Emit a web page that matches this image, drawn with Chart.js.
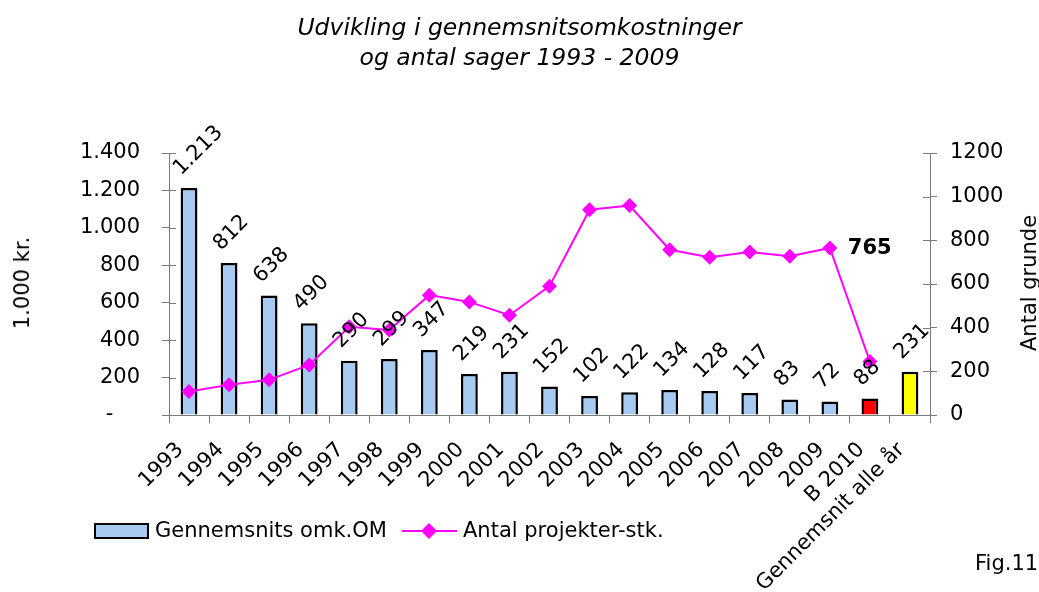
<!DOCTYPE html>
<html>
<head>
<meta charset="utf-8">
<script src="https://cdn.jsdelivr.net/npm/chart.js"></script>
<style>
  html, body { margin: 0; padding: 0; background: #fff; }
  #wrap { position: relative; width: 1039px; height: 592px; font-family: "DejaVu Sans", Verdana, sans-serif; color: #000; }
  #chart { position: absolute; left: 0; top: 0; }
  .title { position: absolute; left: 0; width: 1039px; text-align: center; font-style: italic; font-size: 23.5px; }
  .vtitle { position: absolute; font-size: 21px; white-space: nowrap; transform: translate(-50%, -50%) rotate(-90deg); }
  #fig { position: absolute; left: 975px; top: 551px; font-size: 21px; }
</style>
</head>
<body>
<div id="wrap">
  <canvas id="chart" width="1039" height="592"></canvas>
  <div class="title" style="top: 13px;">Udvikling i gennemsnitsomkostninger</div>
  <div class="title" style="top: 43px;">og antal sager 1993 - 2009</div>
  <div class="vtitle" style="left: 22px; top: 283px;">1.000 kr.</div>
  <div class="vtitle" style="left: 1029px; top: 283px;">Antal grunde</div>
  <div id="fig">Fig.11</div>
</div>
<script>
// values
const categories = ['1993', '1994', '1995', '1996', '1997', '1998', '1999', '2000', '2001', '2002',
  '2003', '2004', '2005', '2006', '2007', '2008', '2009', 'B 2010', 'Gennemsnit alle år'];
const avgCost = [1213, 812, 638, 490, 290, 299, 347, 219, 231, 152, 102, 122, 134, 128, 117, 83, 72, 88, 231];
const projectCount = [108, 138, 161, 229, 404, 389, 549, 518, 457, 590, 940, 959, 757, 723, 746, 727, 765, 245, null];
const leftTicks = [0, 200, 400, 600, 800, 1000, 1200, 1400];
const rightTicks = [0, 200, 400, 600, 800, 1000, 1200];
const highlightIndex = 16; // 2009 count shown in bold

const FONT = '"DejaVu Sans", Verdana, sans-serif';
const AXIS_COLOR = '#7a7a7a';
const SIZE = 21;

function fmtDK(v) {
  if (v === 0) return '-    ';
  return String(v).replace(/\B(?=(\d{3})+(?!\d))/g, '.');
}

function barColor(ctx) {
  if (ctx.dataIndex === 17) return '#ff0000';
  if (ctx.dataIndex === 18) return '#ffff00';
  return '#a6caf0';
}

// rotated category labels, value labels above bars, inner halves of y ticks, bold 765, legend
const extrasPlugin = {
  id: 'extras',
  afterDraw(chart) {
    const ctx = chart.ctx;
    const area = chart.chartArea;
    const xs = chart.scales.x;

    // inner halves of y axis ticks (Excel "cross" tick marks)
    ctx.save();
    ctx.strokeStyle = AXIS_COLOR;
    ctx.lineWidth = 1;
    const yl = chart.scales.y, yr = chart.scales.y1;
    leftTicks.forEach(v => {
      const py = Math.round(yl.getPixelForValue(v)) + 0.5;
      ctx.beginPath(); ctx.moveTo(area.left, py); ctx.lineTo(area.left + 7, py); ctx.stroke();
    });
    rightTicks.forEach(v => {
      const py = Math.round(yr.getPixelForValue(v)) + 0.5;
      ctx.beginPath(); ctx.moveTo(area.right - 7, py); ctx.lineTo(area.right, py); ctx.stroke();
    });
    ctx.restore();

    // category labels at 45 degrees, right end just below the axis
    ctx.save();
    ctx.fillStyle = '#000';
    ctx.font = SIZE + 'px ' + FONT;
    ctx.textAlign = 'right';
    ctx.textBaseline = 'top';
    categories.forEach((c, i) => {
      ctx.save();
      ctx.translate(xs.getPixelForValue(i) - 16, area.bottom + 24);
      ctx.rotate(-Math.PI / 4);
      ctx.fillText(c, 0, 0);
      ctx.restore();
    });
    ctx.restore();

    // bar value labels
    const barMeta = chart.getDatasetMeta(1);
    ctx.save();
    ctx.fillStyle = '#000';
    ctx.font = SIZE + 'px ' + FONT;
    ctx.textAlign = 'left';
    ctx.textBaseline = 'middle';
    barMeta.data.forEach((bar, i) => {
      ctx.save();
      ctx.translate(bar.x - 12, bar.y - 16);
      ctx.rotate(-Math.PI / 4);
      ctx.fillText(fmtDK(avgCost[i]), 0, 0);
      ctx.restore();
    });
    ctx.restore();

    // bold label for the 2009 count
    const pt = chart.getDatasetMeta(0).data[highlightIndex];
    ctx.save();
    ctx.fillStyle = '#000';
    ctx.font = 'bold ' + SIZE + 'px ' + FONT;
    ctx.textAlign = 'left';
    ctx.textBaseline = 'middle';
    ctx.fillText(String(projectCount[highlightIndex]), pt.x + 18, pt.y + 1);
    ctx.restore();

    // legend
    ctx.save();
    ctx.fillStyle = '#a6caf0';
    ctx.fillRect(95, 524, 53, 14);
    ctx.strokeStyle = '#000';
    ctx.lineWidth = 2;
    ctx.strokeRect(95, 524, 53, 14);
    ctx.strokeStyle = '#ff00ff';
    ctx.beginPath(); ctx.moveTo(402, 531); ctx.lineTo(457, 531); ctx.stroke();
    ctx.fillStyle = '#ff00ff';
    ctx.beginPath();
    ctx.moveTo(429, 523); ctx.lineTo(437, 531); ctx.lineTo(429, 539); ctx.lineTo(421, 531);
    ctx.closePath(); ctx.fill();
    ctx.fillStyle = '#000';
    ctx.font = SIZE + 'px ' + FONT;
    ctx.textAlign = 'left';
    ctx.textBaseline = 'middle';
    ctx.fillText('Gennemsnits omk.OM', 155, 532);
    ctx.fillText('Antal projekter-stk.', 463, 532);
    ctx.restore();
  }
};

new Chart(document.getElementById('chart'), {
  type: 'bar',
  data: {
    labels: categories,
    datasets: [
      {
        type: 'line',
        label: 'Antal projekter-stk.',
        data: projectCount,
        yAxisID: 'y1',
        borderColor: '#ff00ff',
        backgroundColor: '#ff00ff',
        borderWidth: 2,
        pointStyle: 'rectRot',
        pointRadius: 7.5,
        pointBorderWidth: 0,
        tension: 0,
        spanGaps: false,
        order: 0
      },
      {
        label: 'Gennemsnits omk.OM',
        data: avgCost,
        yAxisID: 'y',
        backgroundColor: barColor,
        borderColor: '#000',
        borderWidth: 2.5,
        barPercentage: 0.42,
        categoryPercentage: 1,
        order: 1
      }
    ]
  },
  options: {
    responsive: false,
    animation: false,
    layout: { padding: { top: 153, left: 0, right: 0, bottom: 0 } },
    plugins: {
      legend: { display: false },
      tooltip: { enabled: false },
      title: { display: false }
    },
    scales: {
      x: {
        afterFit: s => { s.height = 177; },
        grid: { drawOnChartArea: false, tickLength: 8, color: AXIS_COLOR, offset: true },
        border: { color: AXIS_COLOR },
        ticks: { display: false, autoSkip: false }
      },
      y: {
        position: 'left',
        min: 0, max: 1400,
        afterFit: s => { s.width = 169; },
        afterBuildTicks: s => { s.ticks = leftTicks.map(v => ({ value: v })); },
        grid: { drawOnChartArea: false, tickLength: 7, color: AXIS_COLOR },
        border: { color: AXIS_COLOR },
        ticks: { color: '#000', font: { family: FONT, size: SIZE }, padding: 22, callback: v => fmtDK(v) }
      },
      y1: {
        position: 'right',
        min: 0, max: 1200,
        afterFit: s => { s.width = 109; },
        afterBuildTicks: s => { s.ticks = rightTicks.map(v => ({ value: v })); },
        grid: { drawOnChartArea: false, tickLength: 7, color: AXIS_COLOR },
        border: { color: AXIS_COLOR },
        ticks: { color: '#000', font: { family: FONT, size: SIZE }, padding: 13, callback: v => String(v) }
      }
    }
  },
  plugins: [extrasPlugin]
});
</script>
</body>
</html>
